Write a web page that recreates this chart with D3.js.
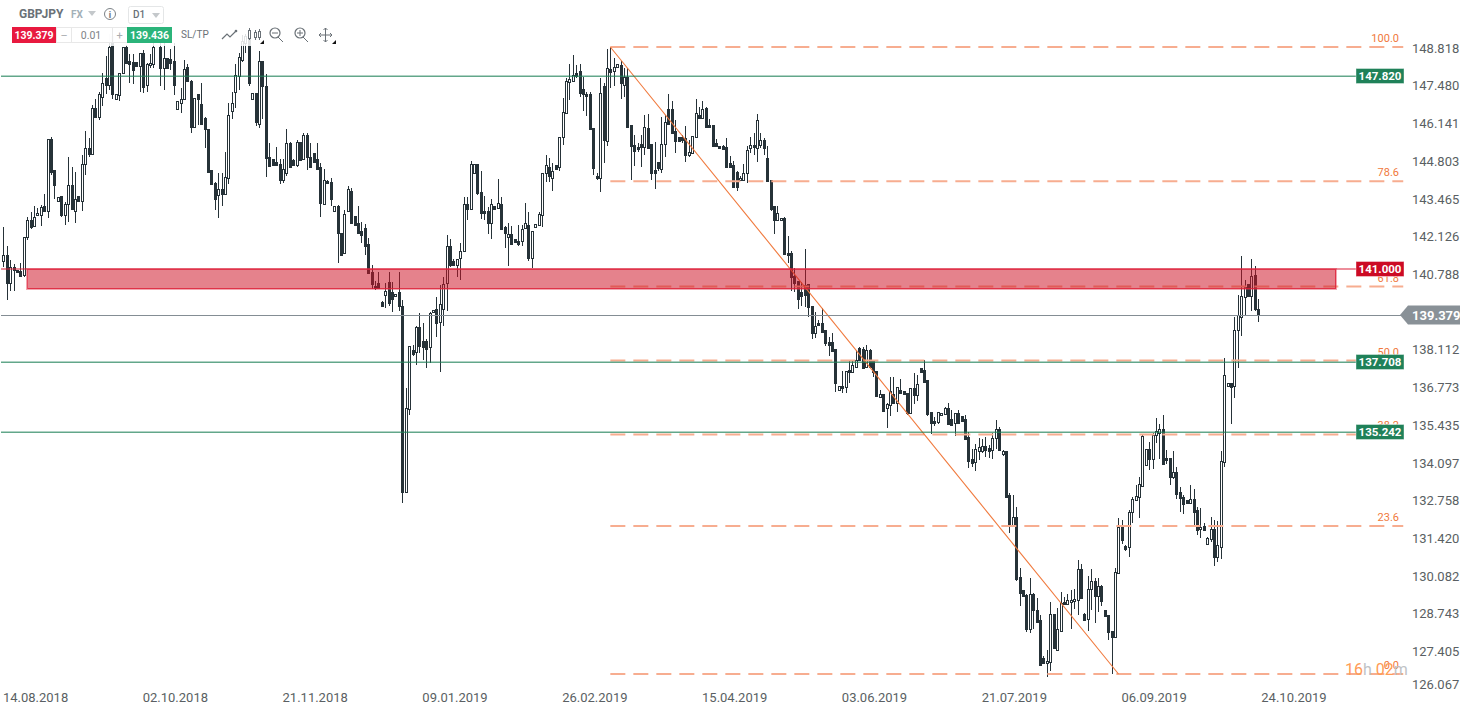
<!DOCTYPE html>
<html><head><meta charset="utf-8">
<script src="https://cdn.jsdelivr.net/npm/d3@7"></script>
<style>
html,body{margin:0;padding:0;background:#fff;overflow:hidden}
svg{display:block}
text{font-family:Roboto,sans-serif}
</style></head><body>
<svg id="chart" width="1465" height="708"></svg>
<script>
const symbol = "GBPJPY";
const dateLabels = ["14.08.2018","02.10.2018","21.11.2018","09.01.2019","26.02.2019","15.04.2019","03.06.2019","21.07.2019","06.09.2019","24.10.2019"];
const priceTicks = [148.818,147.480,146.141,144.803,143.465,142.126,140.788,138.112,136.773,135.435,134.097,132.758,131.420,130.082,128.743,127.405,126.067];
const greenLevels = [147.820,137.708,135.242];
const redLevel = 141.000;
const zoneLow = 140.33;
const currentPrice = 139.379;
const fibHigh = 148.845, fibLow = 126.69;
const fibRatios = [100.0,78.6,61.8,50.0,38.2,23.6,0.0];

const opens = [
141.30,141.50,140.50,141.08,140.97,140.94,140.78,142.12,142.73,142.53,
142.90,142.90,143.23,143.06,145.58,144.50,143.41,143.58,142.92,143.29,
143.96,143.04,143.58,143.41,144.72,145.29,145.08,146.68,146.38,147.09,
147.75,147.51,149.22,147.02,147.14,147.92,148.84,148.34,148.30,148.31,
148.17,148.62,147.49,148.22,148.26,149.30,148.86,148.10,148.44,148.41,
148.34,146.67,146.88,147.00,148.15,147.66,146.03,147.19,146.83,146.33,
145.94,144.50,144.05,143.62,143.81,143.65,144.20,146.59,147.24,147.82,
148.38,148.98,149.27,147.00,147.21,146.14,148.34,147.47,144.97,144.88,
144.77,144.70,144.13,144.40,145.44,144.85,144.69,145.50,144.90,145.73,
144.95,145.09,144.89,144.61,143.31,144.10,144.08,143.04,143.23,142.29,
141.58,143.06,143.74,142.87,142.62,142.33,142.44,141.89,140.89,140.40,
140.50,139.83,140.07,140.53,140.20,140.03,140.19,139.71,133.13,136.05,
138.14,138.08,138.94,138.47,138.45,138.23,139.47,139.58,139.14,139.58,
140.51,141.80,141.27,141.14,141.38,141.65,143.28,143.13,144.38,144.70,
143.72,143.04,143.05,142.61,143.24,143.15,143.29,142.48,142.14,142.23,
142.06,142.00,141.98,142.46,142.57,141.40,142.49,142.54,142.90,144.38,
144.59,144.23,144.67,144.60,145.68,146.53,147.62,147.66,147.92,147.98,
147.36,147.19,147.19,145.97,144.28,144.20,147.47,145.53,148.05,147.98,
148.15,148.21,147.51,147.80,146.09,145.38,145.32,145.41,145.30,145.99,
145.41,144.50,144.78,144.54,145.41,146.64,146.64,145.87,145.65,145.65,
145.62,145.04,145.09,145.68,146.44,146.35,146.69,146.09,146.08,145.44,
145.36,145.35,145.30,144.73,144.66,144.44,144.15,144.15,144.38,145.27,
145.37,145.26,145.39,145.56,144.92,144.15,143.21,142.72,142.73,142.80,
141.56,141.56,140.75,140.58,140.20,140.43,140.46,139.71,138.75,139.10,
139.08,138.84,138.41,138.41,138.16,136.74,136.88,136.84,137.43,137.37,
137.53,138.22,138.16,137.53,138.14,137.77,137.41,136.48,136.60,136.08,
136.18,136.60,136.28,136.72,136.69,136.62,135.93,136.79,136.56,137.49,
137.43,137.08,135.94,135.62,135.60,135.83,135.88,136.09,135.69,135.57,
135.93,135.79,135.69,135.06,134.30,134.17,134.58,134.58,134.76,134.66,
134.61,135.02,135.33,134.46,134.56,133.00,131.92,132.22,130.10,129.65,
129.49,128.28,129.53,128.94,128.59,127.27,127.08,127.13,128.80,127.53,
128.22,129.25,129.15,129.24,129.27,129.32,130.39,128.81,128.62,129.70,
129.99,129.46,129.80,128.95,128.76,128.22,128.01,130.27,131.88,131.22,
131.17,132.40,132.84,132.93,133.35,134.07,134.63,134.30,135.12,135.21,
135.36,134.34,134.34,133.66,133.83,133.12,132.96,132.84,132.72,132.86,
132.48,131.80,131.92,131.29,131.45,131.82,130.84,131.17,134.17,136.87,
136.99,136.85,138.86,139.32,140.00,140.47,140.06,140.78,139.60];

const closes = [
141.50,140.50,141.08,140.97,140.88,140.76,142.14,142.72,142.50,142.85,
142.99,143.18,143.06,145.58,144.44,143.98,143.53,142.92,143.31,143.96,
143.13,143.46,143.41,144.72,145.29,145.08,146.68,146.36,147.18,147.56,
147.49,148.84,147.19,147.19,147.92,148.84,148.29,148.24,148.04,148.17,
148.62,147.44,148.26,148.29,148.86,149.40,148.10,148.44,148.10,148.29,
147.50,146.93,147.00,148.05,147.66,146.03,147.03,147.01,146.14,145.94,
144.44,144.01,143.48,143.81,143.65,144.24,146.45,146.86,147.86,148.48,
149.04,149.22,147.56,147.21,146.20,148.34,147.47,144.91,144.64,144.68,
144.66,144.13,144.52,145.44,144.61,144.69,145.50,144.85,145.72,144.97,
144.61,144.79,144.54,143.34,144.15,144.03,143.48,143.23,142.26,141.51,
142.94,143.81,142.64,142.56,142.29,142.21,141.82,140.85,140.47,140.32,
140.32,139.70,140.21,139.81,139.95,140.12,139.70,133.13,136.08,138.29,
137.99,138.94,138.28,138.25,138.18,139.46,139.55,139.10,139.76,140.46,
141.80,141.13,141.15,141.35,141.65,143.28,143.13,144.70,144.70,143.68,
142.99,142.97,142.64,143.28,143.13,143.32,142.43,142.26,142.23,141.87,
141.94,141.87,142.43,142.64,141.39,142.33,142.58,142.93,144.40,144.66,
144.27,144.45,144.54,145.68,146.56,147.66,147.70,147.85,147.82,147.21,
147.19,147.12,145.96,144.57,144.20,147.21,145.56,148.09,147.97,148.15,
148.24,147.58,147.80,146.01,145.35,145.18,145.25,145.32,146.01,145.28,
144.38,144.40,144.57,145.41,146.18,146.14,145.82,145.53,145.53,145.56,
145.03,145.15,145.71,146.50,146.35,146.64,146.03,146.01,145.35,145.35,
145.30,145.23,144.61,144.61,143.91,143.91,144.22,144.40,145.22,145.39,
145.30,146.28,145.56,145.26,144.10,143.13,142.72,142.99,142.80,141.52,
141.49,140.73,140.52,139.95,140.06,140.08,139.66,138.75,138.98,139.02,
138.78,138.37,138.33,138.09,136.98,136.86,136.81,137.41,137.35,137.60,
137.77,137.79,137.50,138.14,137.55,137.36,136.53,136.59,136.00,136.23,
136.70,136.28,136.82,136.63,136.59,135.93,136.79,136.55,136.94,137.36,
137.02,135.88,135.57,135.55,135.94,135.90,136.09,135.52,135.50,135.90,
135.57,135.62,134.99,134.22,134.15,134.63,134.70,134.76,134.61,134.58,
135.02,135.33,134.61,134.58,132.96,131.92,132.22,130.06,129.56,129.44,
128.27,129.53,128.94,128.52,127.02,127.08,127.15,128.80,127.60,128.27,
129.19,129.15,129.32,129.32,129.34,130.39,129.39,128.59,129.71,129.99,
129.44,129.80,129.27,128.74,128.17,128.01,130.31,131.88,131.43,131.12,
132.43,132.89,132.98,133.39,135.10,134.63,134.30,135.14,135.26,135.36,
134.11,134.27,133.66,133.82,133.05,132.91,132.70,132.72,132.86,132.42,
131.78,131.90,131.78,131.48,131.80,130.84,131.24,134.20,137.24,136.99,
136.82,138.86,139.38,140.04,140.35,140.06,140.76,139.58,139.38];

const highs = [
142.50,141.80,141.32,141.18,140.97,141.20,142.14,142.83,143.02,143.23,
143.17,143.25,143.65,145.58,145.66,144.50,143.53,143.58,143.36,144.97,
144.61,144.44,143.58,145.03,145.89,145.62,146.80,147.01,147.27,147.92,
148.53,149.32,149.37,147.19,147.92,148.84,148.93,148.60,148.60,148.31,
148.62,148.74,148.29,148.60,149.27,149.45,149.27,149.15,148.44,148.76,
148.98,146.93,147.40,148.38,148.24,147.68,147.03,147.19,147.56,146.36,
145.94,144.50,144.09,144.38,144.38,145.13,146.86,147.27,148.26,148.62,
149.27,149.32,149.32,147.21,147.21,148.69,148.36,147.89,145.46,144.88,
145.32,144.88,144.88,145.95,145.50,144.90,145.56,145.50,145.79,145.79,
145.46,145.09,145.47,144.76,144.52,144.15,144.22,143.23,143.25,142.29,
143.09,143.93,143.85,142.87,143.23,142.66,142.60,142.09,141.13,140.56,
140.88,139.88,140.50,140.88,140.53,140.12,140.88,139.90,136.80,138.29,
138.30,138.98,139.44,139.08,138.51,139.48,139.55,140.02,140.44,140.71,
142.20,142.05,141.37,141.35,141.91,143.53,143.53,144.82,144.70,144.70,
144.45,143.58,143.20,143.46,143.24,144.17,143.53,142.52,142.62,142.52,
142.06,142.55,142.56,143.32,143.03,142.33,142.58,143.01,144.40,145.02,
144.91,144.73,144.67,145.68,147.03,147.74,148.24,148.56,148.21,148.26,
147.80,147.27,147.27,145.97,144.40,147.74,147.58,148.76,148.84,148.44,
148.24,148.36,148.09,148.09,146.09,145.73,145.44,145.73,146.44,146.48,
145.41,145.50,144.78,146.38,146.44,147.18,146.94,146.26,145.65,145.73,
146.06,145.56,145.71,147.00,146.74,146.95,146.74,146.31,146.09,145.58,
145.36,145.37,145.62,144.99,144.83,144.47,144.27,144.71,145.34,145.68,
145.79,146.48,145.79,145.62,145.34,144.15,143.23,143.21,142.80,142.83,
142.15,141.64,141.03,140.58,140.55,141.71,140.46,139.71,139.48,139.20,
139.61,138.84,138.59,138.73,138.18,136.86,137.41,137.41,137.77,137.79,
138.14,138.23,138.23,138.30,138.16,137.77,137.41,136.73,136.60,136.25,
137.17,137.19,136.84,137.13,136.69,136.62,136.79,137.31,137.25,137.49,
137.77,137.08,135.94,135.76,135.96,135.90,136.12,136.27,136.02,135.93,
136.02,135.79,135.85,135.25,134.63,134.82,135.02,134.98,135.08,134.77,
135.21,135.67,135.43,134.61,134.56,133.08,133.01,132.58,130.43,129.65,
129.53,130.07,129.56,129.36,128.77,127.32,127.53,129.24,128.80,129.01,
129.58,129.42,129.53,129.65,129.68,130.72,130.58,128.86,130.15,130.39,
130.07,130.08,129.83,128.95,128.76,128.22,130.43,132.19,132.14,131.25,
132.47,132.93,133.37,133.66,135.14,134.63,134.89,135.19,135.72,135.52,
135.83,134.61,134.34,134.58,133.99,133.31,133.02,132.84,133.37,133.21,
132.58,132.54,132.04,131.53,132.24,132.13,132.08,134.58,137.87,136.99,
136.99,139.32,140.08,141.46,140.62,140.47,141.36,141.11,139.93];

const lows = [
141.08,139.90,140.24,140.24,140.88,140.73,140.71,142.03,142.43,142.53,
142.90,142.52,143.06,142.82,144.32,143.48,143.41,142.85,142.56,142.67,
143.09,142.62,143.41,143.06,144.33,144.95,145.03,146.32,146.26,146.77,
147.19,147.33,147.00,147.02,146.95,147.92,148.29,147.58,147.54,148.17,
147.24,147.21,147.27,148.09,148.09,149.30,147.47,147.33,148.10,148.04,
147.15,146.67,146.52,147.00,147.62,145.82,146.03,146.09,146.13,145.28,
144.44,143.96,143.09,142.79,143.21,143.65,144.01,146.29,146.68,147.31,
148.32,148.62,147.48,147.00,146.06,146.00,146.31,144.26,144.61,144.68,
144.66,144.01,144.03,144.28,144.61,144.69,144.61,144.85,144.88,144.50,
144.61,144.79,144.54,142.85,143.25,144.01,143.21,143.04,141.20,141.51,
141.53,143.06,142.62,142.56,142.26,141.92,141.50,140.85,140.28,140.26,
140.32,139.70,139.64,139.69,139.48,140.03,139.52,132.74,133.07,135.85,
137.93,137.61,138.02,137.77,137.49,137.67,139.47,138.61,137.37,138.98,
139.53,141.08,141.14,140.71,140.62,141.65,142.72,143.13,144.38,143.60,
142.76,142.74,142.24,142.07,143.08,143.11,142.40,141.75,141.11,141.86,
141.94,141.82,141.82,142.43,141.30,141.03,142.50,142.52,142.50,144.08,
144.09,143.77,144.49,144.47,145.38,146.53,146.98,147.66,147.74,147.09,
146.59,146.40,145.94,144.32,144.15,143.73,144.73,145.35,147.39,147.45,
148.15,147.02,147.09,145.97,144.15,144.64,145.14,144.59,145.03,145.26,
144.15,143.84,144.47,144.40,144.95,146.14,145.79,145.11,145.53,145.44,
144.79,144.95,145.09,145.68,146.35,146.34,146.01,146.01,145.32,145.32,
145.30,145.23,144.59,144.61,143.87,143.77,144.13,144.15,144.05,145.09,
145.03,144.79,145.26,145.03,144.09,143.06,142.24,142.72,142.73,141.50,
141.23,140.24,140.20,139.58,139.70,139.67,139.32,138.54,138.55,139.02,
138.76,138.28,137.91,138.08,136.67,136.74,136.61,136.61,136.97,137.31,
137.50,137.77,137.48,137.50,137.53,137.17,136.51,136.47,135.98,135.40,
135.81,136.25,135.96,136.61,136.59,135.84,135.90,136.23,136.32,137.31,
136.99,135.79,135.17,135.45,135.52,135.83,135.83,135.49,135.48,135.10,
135.52,135.60,134.96,133.97,134.00,133.88,134.25,134.49,134.37,134.31,
134.27,134.63,134.58,134.39,132.91,131.68,131.92,129.99,129.09,129.44,
128.17,128.15,128.27,128.52,126.99,127.07,126.60,126.78,127.56,127.51,
128.22,129.15,129.15,128.27,129.00,128.77,129.36,128.59,128.22,128.95,
128.50,128.89,129.09,128.74,127.89,126.69,127.96,130.27,131.29,131.03,
130.84,132.02,132.84,132.20,133.31,134.04,133.90,133.95,134.84,134.28,
134.11,134.11,133.37,133.57,132.86,132.41,132.34,132.72,132.72,131.96,
131.59,131.50,131.78,131.29,131.34,130.49,130.63,130.76,134.02,136.87,
135.52,136.44,137.50,138.64,139.36,140.06,139.50,139.53,139.14];

const barsPerDateLabel = 41;
const fibStartBar = 178, fibTrendEndBar = 327, fibEndBar = 410.5, zoneStartBar = 7, zoneEndBar = 390.4;

const x = d3.scaleLinear().domain([0, opens.length - 1]).range([3.3, 1258.3]);
const y = d3.scaleLinear().domain([fibHigh, fibLow]).range([47, 674]);
const tickY = d3.scaleLinear().domain([148.818, 127.405, 126.067]).range([48, 651.5, 684]);

const svg = d3.select("#chart");
const INK = "#263238", GREEN = "#1f8159", RED = "#cc0a24", ORANGE = "#f0793c";

// candles
const idx = d3.range(opens.length);
const candles = svg.append("g").attr("shape-rendering", "crispEdges");
const px = i => Math.round(x(i));
candles.selectAll("rect.w").data(idx).join("rect").attr("class", "w")
  .attr("x", i => px(i)).attr("width", 1)
  .attr("y", i => Math.round(y(highs[i])))
  .attr("height", i => Math.max(1, Math.round(y(lows[i])) - Math.round(y(highs[i]))))
  .attr("fill", INK);
candles.selectAll("rect.b").data(idx).join("rect").attr("class", "b")
  .each(function (i) {
    const up = closes[i] >= opens[i];
    const t = Math.round(y(Math.max(opens[i], closes[i])));
    const b = Math.round(y(Math.min(opens[i], closes[i])));
    const h = Math.max(b - t, 2);
    const s = d3.select(this);
    if (up) s.attr("x", px(i) - 0.5).attr("width", 2).attr("y", t + 0.5).attr("height", h).attr("fill", "#fff").attr("stroke", INK);
    else s.attr("x", px(i) - 1).attr("width", 3).attr("y", t).attr("height", h + 1).attr("fill", INK);
  });

// Fibonacci levels
const fibPrice = r => fibLow + r / 100 * (fibHigh - fibLow);
const fib = svg.append("g");
fib.selectAll("line").data(fibRatios).join("line")
  .attr("x1", x(fibStartBar)).attr("x2", x(fibEndBar))
  .attr("y1", r => y(fibPrice(r))).attr("y2", r => y(fibPrice(r)))
  .attr("stroke", "#f7ad90").attr("stroke-width", 2).attr("stroke-dasharray", "15 8");
fib.selectAll("text").data(fibRatios).join("text")
  .attr("x", 1399).attr("y", r => y(fibPrice(r)) - 5).attr("text-anchor", "end")
  .attr("font-size", 11).attr("fill", ORANGE).text(r => r.toFixed(1));
svg.append("line").attr("x1", x(fibStartBar)).attr("y1", y(fibHigh)).attr("x2", x(fibTrendEndBar)).attr("y2", y(fibLow))
  .attr("stroke", ORANGE).attr("stroke-width", 1.1);

// red supply zone
const zoneRect = svg.append("g").attr("shape-rendering", "crispEdges");
zoneRect.append("rect").attr("x", Math.round(x(zoneStartBar)) + 0.5).attr("width", Math.round(x(zoneEndBar) - x(zoneStartBar)))
  .attr("y", Math.round(y(redLevel)) + 0.5).attr("height", Math.round(y(zoneLow) - y(redLevel)))
  .attr("fill", "rgba(205,15,35,0.52)").attr("stroke", "rgba(222,30,55,0.8)").attr("stroke-width", 1);
zoneRect.append("rect").attr("x", Math.round(x(zoneStartBar)) - 0.5).attr("width", Math.round(x(zoneEndBar) - x(zoneStartBar)) + 2)
  .attr("y", Math.round(y(redLevel)) - 0.5).attr("height", Math.round(y(zoneLow) - y(redLevel)) + 2)
  .attr("fill", "none").attr("stroke", "rgba(222,60,80,0.45)").attr("stroke-width", 1);

// horizontal levels
const lvl = svg.append("g").attr("shape-rendering", "crispEdges");
greenLevels.forEach(v => {
  lvl.append("rect").attr("x", 1).attr("width", 1355).attr("y", Math.round(y(v)) - 1).attr("height", 1).attr("fill", "rgba(31,129,89,0.35)");
  lvl.append("rect").attr("x", 1).attr("width", 1355).attr("y", Math.round(y(v))).attr("height", 1).attr("fill", "rgba(31,129,89,0.7)");
});
lvl.append("rect").attr("x", 1).attr("width", 1355).attr("y", Math.round(y(redLevel)) - 1).attr("height", 2).attr("fill", "rgba(220,30,55,0.5)");
lvl.append("rect").attr("x", 1).attr("width", 1400).attr("y", Math.round(y(currentPrice))).attr("height", 1).attr("fill", "#848d94");

// level tags
const tag = (v, fill) => {
  const yy = Math.round(y(v));
  svg.append("rect").attr("x", 1356).attr("y", yy - 7.5).attr("width", 48).attr("height", 15).attr("fill", fill).attr("stroke", "rgba(255,255,255,.4)");
  svg.append("text").attr("x", 1380).attr("y", yy + 4).attr("text-anchor", "middle")
    .attr("fill", "#fff").attr("font-size", 11.5).attr("font-weight", 700).text(v.toFixed(3));
};
greenLevels.forEach(v => tag(v, GREEN));
tag(redLevel, RED);

// current price tag
const cy = y(currentPrice);
svg.append("path").attr("d", `M1400 ${cy} L1408 ${cy - 9.5} H1460 V${cy + 9.5} H1408 Z`).attr("fill", "#899197");
svg.append("text").attr("x", 1412).attr("y", cy + 5).attr("fill", "#fff").attr("font-size", 13).attr("font-weight", 700).text(currentPrice.toFixed(3));

// price axis
const yAxis = d3.axisRight(tickY).tickValues(priceTicks).tickSize(0).tickPadding(0).tickFormat(d3.format(".3f"));
svg.append("g").attr("transform", "translate(1412,0)").call(yAxis)
  .call(g => g.select(".domain").remove())
  .call(g => g.selectAll("text").attr("font-size", 13).attr("fill", "#5a5f63").attr("font-family", "Roboto,sans-serif"));

// date axis
svg.selectAll("text.date").data(dateLabels).join("text").attr("class", "date")
  .attr("x", (d, i) => x(i * barsPerDateLabel) - 0.4).attr("y", 702)
  .attr("font-size", 13).attr("fill", "#5a5f63").text(d => d);

// countdown
const cd = svg.append("text").attr("x", 1345).attr("y", 675).attr("font-size", 16);
[["16", "#ff9c55"], ["h ", "#bfc3c6"], ["02", "#ff9c55"], ["m", "#bfc3c6"]].forEach(([t, c]) => cd.append("tspan").attr("fill", c).text(t));

// toolbar
svg.append("rect").attr("x", 0).attr("y", 0).attr("width", 345).attr("height", 46).attr("fill", "rgba(255,255,255,0.86)");
const T = (s, xx, yy, size, fill, weight, anchor) => svg.append("text").attr("x", xx).attr("y", yy).attr("font-size", size)
  .attr("fill", fill).attr("font-weight", weight || 400).attr("text-anchor", anchor || "start").text(s);
T(symbol, 19, 18, 12, "#6a7177", 700);
T("FX", 71, 18, 10, "#a3b0b8", 700);
svg.append("path").attr("d", "M88 11 H96 L92 16 Z").attr("fill", "#c4c8cb");
svg.append("circle").attr("cx", 110).attr("cy", 14).attr("r", 5.5).attr("fill", "none").attr("stroke", "#7c8287");
T("i", 110, 17.5, 9, "#6b7177", 700, "middle");
svg.append("rect").attr("x", 128.5).attr("y", 6.5).attr("width", 35).attr("height", 17).attr("rx", 2).attr("fill", "#fff").attr("stroke", "#e4e6e7");
T("D1", 133, 18, 10, "#6a7177", 500);
svg.append("path").attr("d", "M152 13 H160 L156 18 Z").attr("fill", "#c4c8cb");
svg.append("rect").attr("x", 12).attr("y", 27).attr("width", 44).attr("height", 16).attr("fill", "#e8193f");
T("139.379", 34, 39, 10.5, "#fff", 700, "middle");
svg.append("rect").attr("x", 56.5).attr("y", 27.5).attr("width", 71).attr("height", 15).attr("fill", "rgba(255,255,255,.9)").attr("stroke", "#e8e8e8");
svg.append("line").attr("x1", 71.5).attr("x2", 71.5).attr("y1", 27).attr("y2", 43).attr("stroke", "#e8e8e8");
svg.append("line").attr("x1", 112.5).attr("x2", 112.5).attr("y1", 27).attr("y2", 43).attr("stroke", "#e8e8e8");
T("–", 64, 39, 11, "#a9adb0", 400, "middle");
T("0.01", 91, 39, 10.5, "#7d8286", 400, "middle");
T("+", 119.5, 39, 11, "#a9adb0", 400, "middle");
svg.append("rect").attr("x", 127).attr("y", 27).attr("width", 45).attr("height", 16).attr("fill", "#2bb47a");
T("139.436", 149.5, 39, 10.5, "#fff", 700, "middle");
T("SL/TP", 181, 38, 10, "#6a7177", 400);
const ICON = "#6a7177";
const P = (d, w) => svg.append("path").attr("d", d).attr("fill", "none").attr("stroke", ICON).attr("stroke-width", w || 1);
P("M222 39 L227 34 L230 37 L236 31", 1.2);
svg.append("circle").attr("cx", 236).attr("cy", 31).attr("r", 1.3).attr("fill", ICON);
P("M249.5 28V40 M255.5 30V40 M259.5 29V40");
svg.append("rect").attr("x", 248.5).attr("y", 30.5).attr("width", 2).attr("height", 8).attr("fill", "#fff").attr("stroke", ICON);
svg.append("rect").attr("x", 254.5).attr("y", 32.5).attr("width", 2).attr("height", 5).attr("fill", "#fff").attr("stroke", ICON);
svg.append("rect").attr("x", 258.5).attr("y", 31.5).attr("width", 2).attr("height", 6).attr("fill", "#fff").attr("stroke", ICON);
svg.append("path").attr("d", "M260 44 L264 44 L264 40 Z").attr("fill", "#111");
P("M278 37 L283 42"); svg.append("circle").attr("cx", 275).attr("cy", 33).attr("r", 5).attr("fill", "none").attr("stroke", ICON).attr("stroke-width", 1.2);
P("M272 33 H278");
P("M303 37 L308 42"); svg.append("circle").attr("cx", 300).attr("cy", 33).attr("r", 5).attr("fill", "none").attr("stroke", ICON).attr("stroke-width", 1.2);
P("M297 33 H303 M300 30 V36");
P("M325.5 28 V42 M319 35 H332 M323.5 30 L325.5 28 L327.5 30 M323.5 40 L325.5 42 L327.5 40 M321 33 L319 35 L321 37 M330 33 L332 35 L330 37");
svg.append("path").attr("d", "M332 44 L336 44 L336 40 Z").attr("fill", "#111");
</script>
</body></html>
